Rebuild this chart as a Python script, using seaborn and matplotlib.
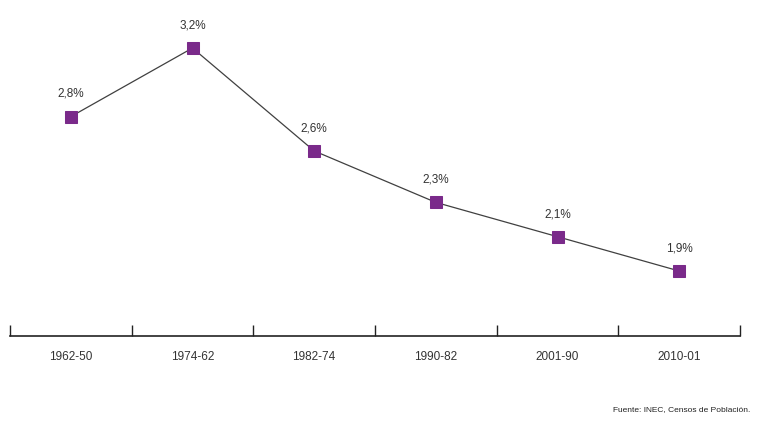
import matplotlib
matplotlib.use("Agg")
import matplotlib.pyplot as plt
import seaborn as sns
import pandas as pd
from matplotlib.ticker import FixedLocator

periods = ["1962-50", "1974-62", "1982-74", "1990-82", "2001-90", "2010-01"]
rates = [2.8, 3.2, 2.6, 2.3, 2.1, 1.9]
labels = ["2,8%", "3,2%", "2,6%", "2,3%", "2,1%", "1,9%"]
source = "Fuente: INEC, Censos de Población."

sns.set_style("white")
plt.rcParams['font.family'] = ['Liberation Sans', 'DejaVu Sans']

df = pd.DataFrame({"x": range(len(periods)), "rate": rates})

fig = plt.figure(figsize=(7.6, 4.26), dpi=100)
ax = fig.add_axes([10/760, 90/426, 730/760, 336/426])

sns.lineplot(data=df, x="x", y="rate", ax=ax, color="#404040", linewidth=0.9,
             marker="s", markersize=8.5, markerfacecolor="#7A2A8A",
             markeredgecolor="#7A2A8A")

for xi, yi, lab in zip(df["x"], rates, labels):
    ax.annotate(lab, (xi, yi), xytext=(0, 12), textcoords="offset points",
                ha="center", va="bottom", fontsize=8.5, color="#333333")

ax.set_xlim(-0.5, len(periods) - 0.5)
ax.set_ylim(1.521, 3.48)
ax.set_xticks(range(len(periods)))
ax.set_xticklabels(periods, fontsize=8.5, color="#333333")
ax.xaxis.set_minor_locator(FixedLocator([i - 0.5 for i in range(len(periods) + 1)]))
ax.tick_params(axis="x", which="major", length=0, pad=11)
ax.tick_params(axis="x", which="minor", direction="in", length=8, width=1, color="#222222", bottom=True)
ax.set_yticks([])
ax.set_xlabel("")
ax.set_ylabel("")
for s in ["top", "right", "left"]:
    ax.spines[s].set_visible(False)
ax.spines["bottom"].set_color("#222222")
ax.spines["bottom"].set_linewidth(1.2)

fig.text(750/760, 1 - 410/426, source, ha="right", va="center", fontsize=6, color="#222222")

fig.savefig("out.png", dpi=100)
